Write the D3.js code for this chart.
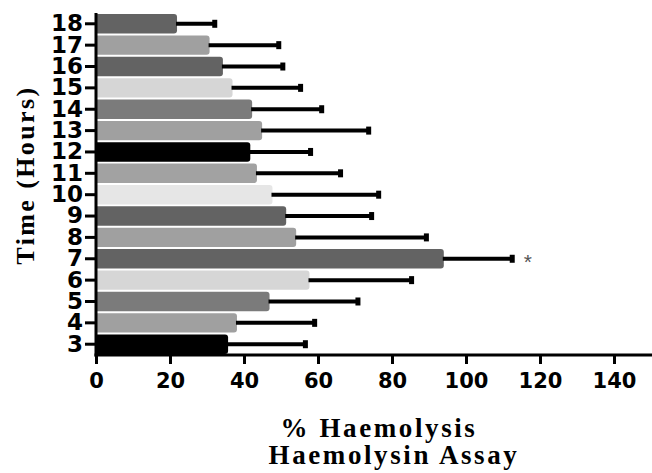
<!DOCTYPE html>
<html>
<head>
<meta charset="utf-8">
<script src="https://cdn.jsdelivr.net/npm/d3@7"></script>
<style>
  html, body { margin: 0; padding: 0; background: #fff; }
  svg { display: block; }
</style>
</head>
<body>
<svg id="chart" width="652" height="473"></svg>
<script>
// Haemolysin assay: mean % haemolysis per sampling time, with upper error bars
const hours = ["18", "17", "16", "15", "14", "13", "12", "11", "10", "9", "8", "7", "6", "5", "4", "3"];
const haemolysis = [21.9, 30.7, 34.3, 36.9, 42.2, 44.9, 41.7, 43.5, 47.7, 51.4, 54.1, 94.0, 57.7, 46.9, 38.1, 35.7];
const errors = [10.6, 19.1, 16.6, 18.8, 19.2, 29.2, 16.7, 23.0, 29.1, 23.5, 35.6, 18.9, 28.0, 24.3, 21.4, 21.3];
const barColors = ["#636363", "#a0a0a0", "#636363", "#d6d6d6", "#7b7b7b", "#a0a0a0", "#000000", "#a2a2a2",
                   "#e6e6e6", "#636363", "#a0a0a0", "#636363", "#d6d6d6", "#7b7b7b", "#a0a0a0", "#000000"];
const xTicks = [0, 20, 40, 60, 80, 100, 120, 140];
const significant = ["7"];

const svg = d3.select("#chart");
const x0 = 96, xEnd = 651, yTop = 13, yBottom = 355;

const x = d3.scaleLinear().domain([0, 150]).range([x0, xEnd]);
const y = d3.scaleBand().domain(hours).range([yTop, yBottom]).paddingInner(0.09).paddingOuter(0.05);

const rows = hours.map((h, i) => ({ h, v: haemolysis[i], e: errors[i], c: barColors[i] }));

// bar outline with square left end and rounded right end
function barPath(d) {
  const left = x(0), right = x(d.v), top = y(d.h), h = y.bandwidth(), r = 3;
  return `M${left},${top}H${right - r}Q${right},${top} ${right},${top + r}` +
         `V${top + h - r}Q${right},${top + h} ${right - r},${top + h}H${left}Z`;
}

svg.append("g").selectAll("path").data(rows).join("path")
  .attr("d", barPath)
  .attr("fill", d => d.c);

// error bars (upper only) with end caps
const eb = svg.append("g");
eb.selectAll("line").data(rows).join("line")
  .attr("x1", d => x(d.v) - 1)
  .attr("x2", d => x(d.v + d.e))
  .attr("y1", d => y(d.h) + y.bandwidth() / 2)
  .attr("y2", d => y(d.h) + y.bandwidth() / 2)
  .attr("stroke", "#000")
  .attr("stroke-width", 4);
eb.selectAll("rect").data(rows).join("rect")
  .attr("x", d => x(d.v + d.e) - 4)
  .attr("y", d => y(d.h) + y.bandwidth() / 2 - 4)
  .attr("width", 5)
  .attr("height", 8)
  .attr("fill", "#000");

// significance marker
svg.append("g").selectAll("text").data(rows.filter(d => significant.includes(d.h))).join("text")
  .attr("x", d => x(d.v + d.e) + 14)
  .attr("y", d => y(d.h) + y.bandwidth() / 2 + 10)
  .attr("text-anchor", "middle")
  .attr("font-family", "Liberation Sans, Arial, sans-serif")
  .attr("font-size", 21)
  .attr("fill", "#555")
  .text("*");

// x axis
const xAxis = svg.append("g")
  .attr("transform", `translate(0,${yBottom})`)
  .call(d3.axisBottom(x).tickValues(xTicks).tickSize(9).tickPadding(9).tickFormat(d3.format("d")));
xAxis.select(".domain").attr("stroke", "#000").attr("stroke-width", 3).attr("d", `M${x0 - 1.5},0H${xEnd + 1}`);
xAxis.selectAll(".tick line").attr("stroke", "#000").attr("stroke-width", 3);
xAxis.selectAll(".tick text")
  .attr("font-family", "DejaVu Sans, sans-serif")
  .attr("font-weight", "bold")
  .attr("font-size", 21)
  .attr("fill", "#000");

// y axis
const yAxis = svg.append("g")
  .attr("transform", `translate(${x0},0)`)
  .call(d3.axisLeft(y).tickSize(11).tickPadding(2));
yAxis.select(".domain").attr("stroke", "#000").attr("stroke-width", 3).attr("d", `M0,${yTop}V${yBottom + 1.5}`);
yAxis.selectAll(".tick line").attr("stroke", "#000").attr("stroke-width", 3);
yAxis.selectAll(".tick text")
  .attr("font-family", "DejaVu Sans, sans-serif")
  .attr("font-weight", "bold")
  .attr("font-size", 23)
  .attr("fill", "#000");

// axis titles
svg.append("text")
  .attr("transform", "translate(34,175) rotate(-90)")
  .attr("text-anchor", "middle")
  .attr("font-family", "Liberation Serif, Times New Roman, serif")
  .attr("font-weight", "bold")
  .attr("font-size", 26)
  .attr("letter-spacing", 2.4)
  .text("Time (Hours)");

svg.append("text")
  .attr("x", 379).attr("y", 437)
  .attr("text-anchor", "middle")
  .attr("font-family", "Liberation Serif, Times New Roman, serif")
  .attr("font-weight", "bold")
  .attr("font-size", 27)
  .attr("letter-spacing", 2.6)
  .text("% Haemolysis");

svg.append("text")
  .attr("x", 394).attr("y", 464)
  .attr("text-anchor", "middle")
  .attr("font-family", "Liberation Serif, Times New Roman, serif")
  .attr("font-weight", "bold")
  .attr("font-size", 27)
  .attr("letter-spacing", 2.6)
  .text("Haemolysin Assay");
</script>
</body>
</html>
